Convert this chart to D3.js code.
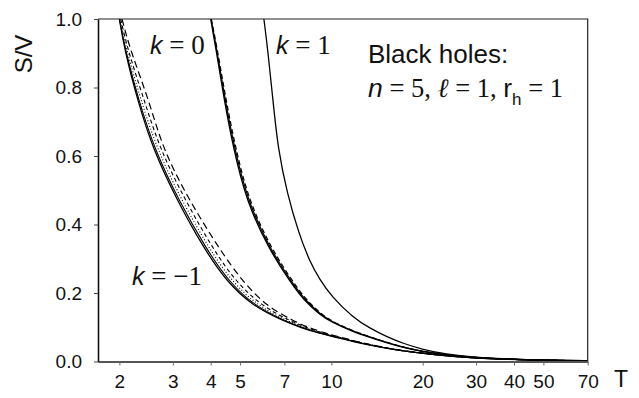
<!DOCTYPE html>
<html>
<head>
<meta charset="utf-8">
<script src="https://cdn.jsdelivr.net/npm/d3@7"></script>
<style>
  body { margin: 0; background: #fff; }
  text { font-family: "Liberation Sans", Arial, sans-serif; fill: #111; }
  .serif { font-family: "Liberation Serif", "Times New Roman", serif; }
</style>
</head>
<body>
<div id="chart"></div>
<script>
// tick labels
var xTicks = [2, 3, 4, 5, 7, 10, 20, 30, 40, 50, 70];
var yTicks = [0, 0.2, 0.4, 0.6, 0.8, 1.0];

var sKm1 = [1.0, 0.91, 0.76, 0.62, 0.47, 0.33, 0.235, 0.162, 0.117, 0.098, 0.082, 0.0745, 0.058, 0.048, 0.0385, 0.0307, 0.024, 0.0162, 0.0112, 0.0074, 0.0052, 0.0037, 0.0026, 0.0019];
var tKm1a = [2.0, 2.08, 2.3, 2.58, 3.1, 3.8, 4.5, 5.5, 7.0, 8.0, 9.15, 10, 11.8, 13.4, 15.2, 17.2, 20, 24, 28.6, 35, 42, 50, 60, 70];
var tKm1b = [2.0, 2.09, 2.32, 2.61, 3.14, 3.86, 4.57, 5.58, 7.08, 8.08, 9.22, 10.06, 11.86, 13.45, 15.25, 17.25, 20.05, 24.05, 28.65, 35, 42, 50, 60, 70];
var tKm1c = [2.01, 2.11, 2.36, 2.66, 3.21, 3.95, 4.68, 5.72, 7.22, 8.2, 9.32, 10.15, 11.94, 13.52, 15.32, 17.3, 20.1, 24.1, 28.7, 35.05, 42, 50, 60, 70];
var tKm1d = [2.02, 2.13, 2.42, 2.72, 3.3, 4.06, 4.82, 5.88, 7.38, 8.33, 9.45, 10.26, 12.03, 13.6, 15.4, 17.36, 20.15, 24.15, 28.75, 35.1, 42.05, 50, 60, 70];
var tKm1e = [2.04, 2.17, 2.51, 2.78, 3.4, 4.26, 5.08, 6.1, 7.55, 8.48, 9.58, 10.38, 12.12, 13.68, 15.48, 17.42, 20.2, 24.2, 28.8, 35.15, 42.1, 50.05, 60, 70];

// k = 0 bundle
var sK0 = [1.0, 0.91, 0.76, 0.62, 0.47, 0.33, 0.23, 0.18, 0.137, 0.115, 0.087, 0.0706, 0.055, 0.0414, 0.0287, 0.019, 0.0125, 0.0082, 0.0056, 0.004, 0.0028, 0.0021];
var tK0a = [4.0, 4.17, 4.44, 4.76, 5.24, 6.2, 7.35, 8.1, 9.15, 10, 11.8, 13.4, 15.2, 17.2, 20, 24, 28.6, 35, 42, 50, 60, 70];
var tK0b = [4.01, 4.19, 4.47, 4.8, 5.29, 6.26, 7.42, 8.18, 9.23, 10.08, 11.88, 13.48, 15.28, 17.27, 20.06, 24.05, 28.65, 35, 42, 50, 60, 70];
var tK0c = [4.02, 4.21, 4.5, 4.84, 5.34, 6.33, 7.5, 8.26, 9.3, 10.15, 11.95, 13.55, 15.35, 17.33, 20.1, 24.1, 28.7, 35.05, 42, 50, 60, 70];

// k = 1
var sK1 = [1.0, 0.91, 0.76, 0.62, 0.49, 0.375, 0.29, 0.24, 0.19, 0.128, 0.097, 0.0725, 0.053, 0.035, 0.021, 0.0135, 0.0085, 0.0058, 0.004, 0.0028, 0.0021];
var tK1 = [5.99, 6.17, 6.42, 6.67, 7.15, 7.8, 8.5, 9.15, 10, 11.8, 13.4, 15.2, 17.2, 20, 24, 28.6, 35, 42, 50, 60, 70];

function init() {
  var width = 639, height = 398;
  var left = 98, right = 587.7, top = 19, bottom = 361.5;

  var x = d3.scaleLog().domain([1.7, 70]).range([left, right]);
  var y = d3.scaleLinear().domain([0, 1]).range([bottom, top]);

  var svg = d3
    .select("#chart")
    .append("svg")
    .attr("width", width)
    .attr("height", height);

  svg.append("clipPath").attr("id", "plot")
    .append("rect")
    .attr("x", left).attr("y", top)
    .attr("width", right - left).attr("height", bottom - top);

  // curve table: [T values, S/V values, dash, width]
  var curves = [
    [tKm1a, sKm1, null, 1.3],
    [tKm1b, sKm1, null, 1.1],
    [tKm1c, sKm1, "1,2", 1.1],
    [tKm1d, sKm1, "4,3", 1.1],
    [tKm1e, sKm1, "7,4", 1.2],
    [tK0a, sK0, null, 1.4],
    [tK0b, sK0, null, 1.2],
    [tK0c, sK0, "5,3", 1.2],
    [tK1, sK1, null, 1.3]
  ];

  // basis spline smooths out the reading noise between points
  var line = d3
    .line()
    .x(function (d) { return x(d[0]); })
    .y(function (d) { return y(d[1]); })
    .curve(d3.curveBasis);

  svg.append("g")
    .attr("clip-path", "url(#plot)")
    .selectAll("path")
    .data(curves)
    .enter()
    .append("path")
    .attr("d", function (c) { return line(d3.zip(c[0], c[1])); })
    .attr("fill", "none")
    .attr("stroke", "#000")
    .attr("stroke-width", function (c) { return c[3]; })
    .attr("stroke-dasharray", function (c) { return c[2]; });

  // frame top and right
  svg.append("path")
    .attr("d", "M" + left + "," + top + "H" + right + "V" + bottom)
    .attr("fill", "none")
    .attr("stroke", "#222")
    .attr("stroke-width", 1.2);

  var xAxis = svg.append("g")
    .attr("transform", "translate(0," + bottom + ")")
    .call(d3.axisBottom(x).tickValues(xTicks).tickFormat(d3.format("d"))
      .tickSize(4).tickSizeOuter(0).tickPadding(9));
  xAxis.select(".domain").attr("stroke", "#555").attr("stroke-width", 2.2);
  xAxis.selectAll(".tick line").attr("stroke", "#666");
  xAxis.selectAll("text").style("font-size", "19px").style("font-family", "Liberation Sans, Arial, sans-serif").attr("fill", "#111");

  var yAxis = svg.append("g")
    .attr("transform", "translate(" + left + ",0)")
    .call(d3.axisLeft(y).tickValues(yTicks).tickFormat(d3.format(".1f"))
      .tickSize(4).tickSizeOuter(0).tickPadding(12));
  yAxis.select(".domain").attr("stroke", "#111").attr("stroke-width", 1.6);
  yAxis.selectAll(".tick line").attr("stroke", "#444");
  yAxis.selectAll("text").style("font-size", "19px").style("font-family", "Liberation Sans, Arial, sans-serif").attr("fill", "#111");

  // axis titles
  svg.append("text")
    .attr("transform", "translate(31.5,54) rotate(-90)")
    .attr("text-anchor", "middle")
    .style("font-size", "24px")
    .text("S/V");
  svg.append("text")
    .attr("x", 621).attr("y", 387)
    .attr("text-anchor", "middle")
    .style("font-size", "23px")
    .text("T");

  // k labels
  function kLabel(px, py, rest) {
    var t = svg.append("text").attr("x", px).attr("y", py);
    t.append("tspan").style("font-style", "italic").style("font-size", "25px").text("k");
    t.append("tspan").attr("class", "serif").style("font-size", "27px").text(" = " + rest);
  }
  kLabel(150, 54, "0");
  kLabel(276, 54, "1");
  kLabel(132, 285, "\u22121");

  svg.append("text")
    .attr("x", 368).attr("y", 63)
    .style("font-size", "26px")
    .text("Black holes:");

  var p = svg.append("text").attr("x", 368).attr("y", 97).style("font-size", "26.5px");
  p.append("tspan").style("font-style", "italic").text("n");
  p.append("tspan").attr("class", "serif").text(" = 5, ");
  p.append("tspan").attr("class", "serif").style("font-style", "italic").text("\u2113");
  p.append("tspan").attr("class", "serif").text(" = 1, ");
  p.append("tspan").text("r");
  p.append("tspan").attr("dy", 8).style("font-size", "17px").text("h");
  p.append("tspan").attr("dy", -8).attr("class", "serif").text(" = 1");
}

window.onload = init;
</script>
</body>
</html>
